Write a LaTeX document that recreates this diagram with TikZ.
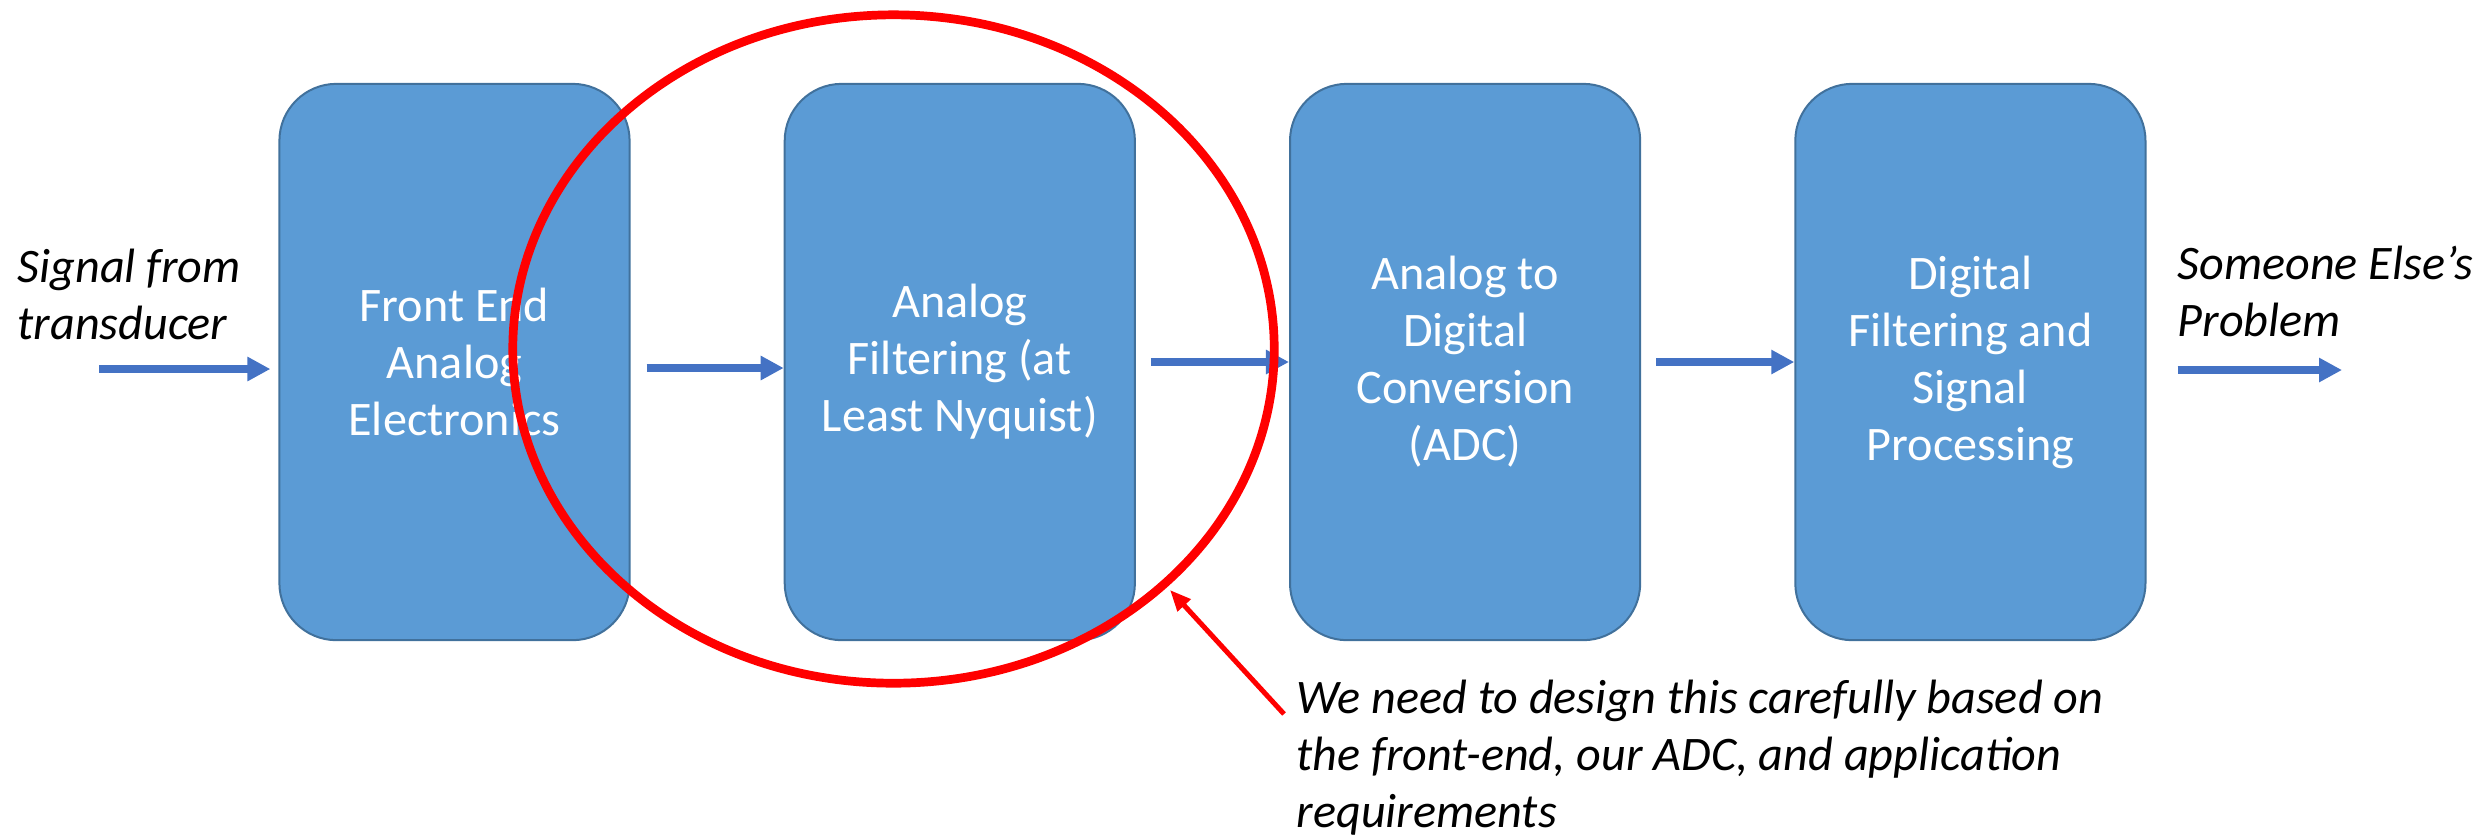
\documentclass[tikz,border=0pt]{standalone}
\usepackage{fontspec}
\setmainfont{Carlito}
\usetikzlibrary{arrows.meta,positioning,shapes.geometric}
\definecolor{blockfill}{HTML}{5B9BD5}
\definecolor{blockline}{HTML}{41719C}
\definecolor{flowblue}{HTML}{4472C4}

\begin{document}
\begin{tikzpicture}[x=0.01cm,y=-0.01cm,
		block/.style={draw=blockline,line width=0.02cm,fill=blockfill,rounded corners=0.57cm,minimum width=3.5cm,minimum height=5.56cm,align=center,text=white,font=\fontsize{13.7}{16.2}\selectfont},
		flow/.style={draw=flowblue,line width=0.084cm,-{Triangle[length=0.23cm,width=0.23cm]}},
		remark/.style={align=left,inner sep=0pt,font=\fontsize{13.7}{16.2}\selectfont\itshape}]
		\useasboundingbox (0,0) rectangle (2486,835);
		\node[block] (FE) at (454.5,362) {Front End\\Analog\\Electronics};
		\node[block,right=1.53cm of FE] (AF) {Analog\\Filtering (at\\Least Nyquist)};
		\node[block,right=1.53cm of AF] (ADC) {Analog to\\Digital\\Conversion\\(ADC)};
		\node[block,right=1.53cm of ADC] (DSP) {Digital\\Filtering and\\Signal\\Processing};
		% base of a two-line remark sits on its last line
		\node[remark,anchor=base west] (src) at (17,339) {Signal from\\transducer};
		\node[remark,anchor=base west] (dst) at (2177,336) {Someone Else’s\\Problem};
		\coordinate (in) at (99,369);
		\coordinate (out) at (2342,370);
		\draw[flow,shorten >=0.08cm] (in) -- (FE.west |- in);
		\draw[flow,shorten <=0.16cm] ([yshift=-0.06cm]FE.east) -- ([yshift=-0.06cm]AF.west);
		\draw[flow,shorten <=0.15cm] (AF) -- (ADC);
		\draw[flow,shorten <=0.15cm] (ADC) -- (DSP);
		\draw[flow,shorten <=0.31cm] (DSP.east |- out) -- (out);
		% the filter stage is ringed and pointed at
		\node[draw=red,line width=0.087cm,ellipse,minimum width=7.61cm,minimum height=6.68cm,inner sep=0pt] (ring) at (893.5,349) {};
		\node[remark,anchor=base west] (note) at (1296,827) {We need to design this carefully based on\\the front-end, our ADC, and application\\requirements};
		\coordinate (tail) at (1284,714);
		\draw[red,line width=0.05cm,shorten >=0.04cm,-{Triangle[length=0.21cm,width=0.17cm]}] (tail) -- (ring.-41);
	\end{tikzpicture}
\end{document}
